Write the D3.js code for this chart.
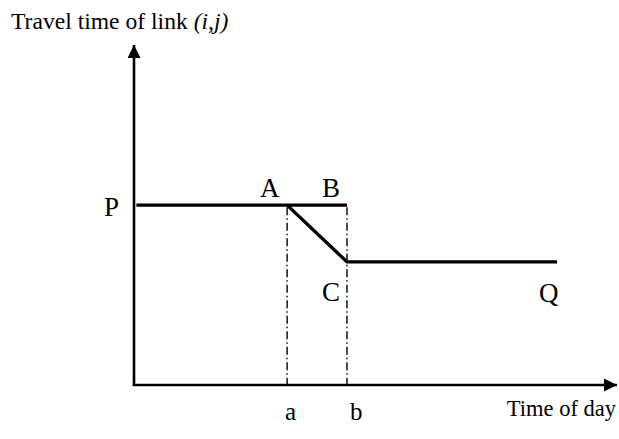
<!DOCTYPE html>
<html><head><meta charset="utf-8">
<script src="https://cdn.jsdelivr.net/npm/d3@7"></script>
<style>body{margin:0;background:#fff}svg{display:block}text{font-family:"Liberation Serif","Times New Roman",serif;fill:#000}</style>
</head><body><svg id="c" width="619" height="439"></svg>
<script>
// data (abstract units: time 0..100, travel time 0..100)
const xDomain = [0, 100];
const yDomain = [0, 100];
const tickTimes = [31.7, 44.1];
const tickLabels = ["a", "b"];
const highLevel = 52.9;
const lowLevel = 36.2;
const upperSeries = [[0, highLevel], [44.1, highLevel]];          // P ... A ... B
const lowerSeries = [[31.7, highLevel], [44.1, lowLevel], [87.6, lowLevel]]; // A -> C -> Q
const pointNames = ["P", "A", "B", "C", "Q"];
const pointValues = [[0, highLevel], [31.7, highLevel], [44.1, highLevel], [44.1, lowLevel], [87.6, lowLevel]];
const yTitle = "Travel time of link ";
const yTitleItalic = "(i,j)";
const xTitle = "Time of day";

const svg = d3.select("#c");
const x = d3.scaleLinear().domain(xDomain).range([134, 617]);
const y = d3.scaleLinear().domain(yDomain).range([385, 45]);

const defs = svg.append("defs");
defs.append("marker").attr("id", "arr").attr("viewBox", "0 0 10 10")
  .attr("refX", 10).attr("refY", 5).attr("markerUnits", "userSpaceOnUse")
  .attr("markerWidth", 16).attr("markerHeight", 13).attr("orient", "auto")
  .append("path").attr("d", "M0,0L10,5L0,10Z").attr("fill", "#000");

// dash-dot guide lines
svg.selectAll(".guide").data(tickTimes).join("line")
  .attr("x1", d => x(d)).attr("x2", d => x(d))
  .attr("y1", y(highLevel) + 2).attr("y2", y(0))
  .attr("stroke", "#000").attr("stroke-width", 1.4)
  .attr("stroke-dasharray", "8,3,1.5,3");

// axes
svg.append("line").attr("x1", x(0)).attr("y1", y(0)).attr("x2", x(0)).attr("y2", y(100))
  .attr("stroke", "#000").attr("stroke-width", 2.6).attr("marker-end", "url(#arr)");
svg.append("line").attr("x1", x(0) - 1.3).attr("y1", y(0)).attr("x2", x(100)).attr("y2", y(0))
  .attr("stroke", "#000").attr("stroke-width", 2.6).attr("marker-end", "url(#arr)");

const line = d3.line().x(d => x(d[0])).y(d => y(d[1]));
svg.append("path").attr("d", line(upperSeries.map((d, i) => i === 0 ? [d[0] + 0.5, d[1]] : d)))
  .attr("fill", "none").attr("stroke", "#000").attr("stroke-width", 3.4);
svg.append("path").attr("d", line(lowerSeries))
  .attr("fill", "none").attr("stroke", "#000").attr("stroke-width", 3.4)
  .attr("stroke-linejoin", "miter");

// point labels
const offsets = [[-30, 11], [-27, -8], [-25, -8], [-25, 39], [-18, 40]];
svg.selectAll(".pl").data(pointNames).join("text")
  .attr("x", (d, i) => x(pointValues[i][0]) + offsets[i][0])
  .attr("y", (d, i) => y(pointValues[i][1]) + offsets[i][1])
  .attr("font-size", 27).text(d => d);

// tick labels
const tickOffsets = [-2, 3];
svg.selectAll(".tl").data(tickLabels).join("text")
  .attr("x", (d, i) => x(tickTimes[i]) + tickOffsets[i]).attr("y", 420)
  .attr("font-size", 25).text(d => d);

// titles
const t = svg.append("text").attr("x", 11).attr("y", 29).attr("font-size", 23.6);
t.append("tspan").text(yTitle);
t.append("tspan").attr("font-style", "italic").text(yTitleItalic);
svg.append("text").attr("x", 616).attr("y", 416).attr("text-anchor", "end")
  .attr("font-size", 22.5).text(xTitle);
</script></body></html>
